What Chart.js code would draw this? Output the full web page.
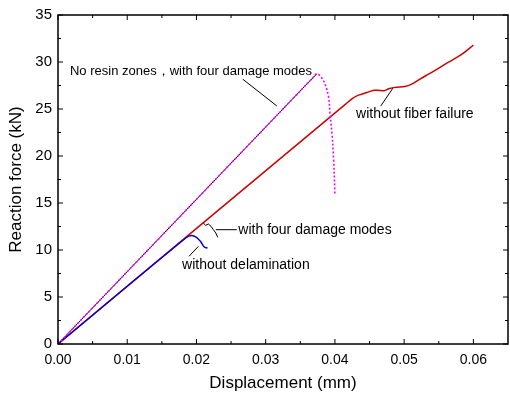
<!DOCTYPE html>
<html>
<head>
<meta charset="utf-8">
<script src="https://cdn.jsdelivr.net/npm/chart.js@4.4.0/dist/chart.umd.min.js"></script>
<style>
html, body { margin: 0; padding: 0; background: #fff; }
</style>
</head>
<body>
<canvas id="chart" width="510" height="394"></canvas>
<script>
var xTicks = [0, 0.01, 0.02, 0.03, 0.04, 0.05, 0.06];
var yTicks = [0, 5, 10, 15, 20, 25, 30, 35];

// No resin zones, with four damage modes (magenta dotted, black underneath)
var magX = [0, 0.0360, 0.0368, 0.0374, 0.0381, 0.0386, 0.0391, 0.0393, 0.03955, 0.0398, 0.0400];
var magY = [0, 27.7, 28.3, 28.75, 28.3, 27.6, 26.2, 24.4, 22.6, 19.8, 15.9];
var blackX = [0, 0.0360, 0.0368, 0.0374];
var blackY = [0, 27.7, 28.3, 28.75];

// without fiber failure / with four damage modes (red)
var redX = [0, 0.0415, 0.0425, 0.0433, 0.0442, 0.0450, 0.0457, 0.0464, 0.0471, 0.0478, 0.0487, 0.0501, 0.0511, 0.0521, 0.0535, 0.0550, 0.0564, 0.0583, 0.0600];
var redY = [0, 25.5, 26.1, 26.45, 26.65, 26.85, 27.0, 26.98, 26.95, 27.15, 27.3, 27.39, 27.64, 28.1, 28.7, 29.34, 29.98, 30.8, 31.8];

// without delamination (blue)
var blueX = [0, 0.0185, 0.0193, 0.0200, 0.0206, 0.0211, 0.0216];
var blueY = [0, 11.3, 11.55, 11.35, 10.9, 10.35, 10.2];

var FONT = 'Liberation Sans, Arial, Helvetica, sans-serif';

// text labels and leader lines, in data units
var notes = [
    { text: 'No resin zones\uFF0Cwith four damage modes', x: 0.00173, y: 28.95, size: 13 },
    { text: 'without fiber failure', x: 0.04306, y: 24.45, size: 14 },
    { text: 'with four damage modes', x: 0.02605, y: 12.13, size: 14 },
    { text: 'without delamination', x: 0.01792, y: 8.44, size: 14 }
];
var leaders = [
    [[0.02669, 28.17], [0.0316, 25.33]],
    [[0.04663, 25.33], [0.04837, 27.21]],
    [[0.02279, 12.16], [0.02582, 12.16]],
    [[0.0210, 12.87], [0.02134, 12.62], [0.02172, 12.77], [0.02211, 12.51], [0.02244, 12.16], [0.02279, 11.81], [0.02308, 11.34]],
    [[0.01893, 9.33], [0.02028, 10.39]]
];

function pts(xs, ys) {
    return xs.map(function(x, i) { return { x: x, y: ys[i] }; });
}

var framePlugin = {
    id: 'frame',
    afterDatasetsDraw: function(chart) {
        var ctx = chart.ctx, a = chart.chartArea;
        var xs = chart.scales.x, ys = chart.scales.y;
        ctx.save();
        ctx.strokeStyle = '#000';
        ctx.lineWidth = 1.5;
        ctx.strokeRect(a.left, a.top, a.right - a.left, a.bottom - a.top);

        ctx.lineWidth = 1;
        ctx.beginPath();
        for (var i = 0; i < xTicks.length; i++) {
            var px = xs.getPixelForValue(xTicks[i]);
            ctx.moveTo(px, a.bottom); ctx.lineTo(px, a.bottom - 5);
            ctx.moveTo(px, a.top); ctx.lineTo(px, a.top + 5);
            var mx = xs.getPixelForValue(xTicks[i] + 0.005);
            if (mx < a.right - 1) {
                ctx.moveTo(mx, a.bottom); ctx.lineTo(mx, a.bottom - 3);
                ctx.moveTo(mx, a.top); ctx.lineTo(mx, a.top + 3);
            }
        }
        for (var j = 0; j < yTicks.length; j++) {
            var py = ys.getPixelForValue(yTicks[j]);
            ctx.moveTo(a.left, py); ctx.lineTo(a.left + 5, py);
            ctx.moveTo(a.right, py); ctx.lineTo(a.right - 5, py);
            if (j < yTicks.length - 1) {
                var my = ys.getPixelForValue(yTicks[j] + 2.5);
                ctx.moveTo(a.left, my); ctx.lineTo(a.left + 3, my);
                ctx.moveTo(a.right, my); ctx.lineTo(a.right - 3, my);
            }
        }
        ctx.stroke();

        // leader lines
        ctx.lineWidth = 1;
        ctx.lineJoin = 'round';
        leaders.forEach(function(l) {
            ctx.beginPath();
            l.forEach(function(p, k) {
                var X = xs.getPixelForValue(p[0]), Y = ys.getPixelForValue(p[1]);
                if (k === 0) ctx.moveTo(X, Y); else ctx.lineTo(X, Y);
            });
            ctx.stroke();
        });

        ctx.fillStyle = '#000';
        ctx.textAlign = 'left';
        ctx.textBaseline = 'middle';
        notes.forEach(function(n) {
            ctx.font = n.size + 'px ' + FONT;
            ctx.fillText(n.text, xs.getPixelForValue(n.x), ys.getPixelForValue(n.y));
        });
        ctx.restore();
    }
};

var ctx = document.getElementById('chart');
var myChart = new Chart(ctx, {
    type: 'scatter',
    data: {
        datasets: [
            {
                label: 'No resin zones',
                data: pts(magX, magY),
                showLine: true,
                borderColor: '#FF00FF',
                borderWidth: 1.6,
                borderDash: [2, 2],
                pointRadius: 0,
                tension: 0.35
            },
            {
                label: 'No resin zones base',
                data: pts(blackX, blackY),
                showLine: true,
                borderColor: '#000',
                borderWidth: 1,
                pointRadius: 0,
                tension: 0.35
            },
            {
                label: 'without delamination',
                data: pts(blueX, blueY),
                showLine: true,
                borderColor: '#0000DD',
                borderWidth: 1.5,
                pointRadius: 0,
                tension: 0.35
            },
            {
                label: 'without fiber failure',
                data: pts(redX, redY),
                showLine: true,
                borderColor: '#D00000',
                borderWidth: 1.5,
                pointRadius: 0,
                tension: 0.35
            }
        ]
    },
    options: {
        responsive: false,
        animation: false,
        layout: { padding: { top: 15, right: 2, left: 0, bottom: 0 } },
        plugins: {
            legend: { display: false },
            tooltip: { enabled: false }
        },
        scales: {
            x: {
                type: 'linear',
                min: 0,
                max: 0.065,
                grid: { display: false, drawTicks: false },
                border: { display: false },
                afterBuildTicks: function(s) { s.ticks = xTicks.map(function(v) { return { value: v }; }); },
                afterFit: function(s) { s.height = 50; },
                ticks: {
                    color: '#000',
                    padding: 8,
                    maxRotation: 0,
                    font: { family: FONT, size: 14 },
                    callback: function(v) { return Number(v).toFixed(2); }
                },
                title: {
                    display: true,
                    text: 'Displacement (mm)',
                    color: '#000',
                    padding: 0,
                    font: { family: FONT, size: 17 }
                }
            },
            y: {
                type: 'linear',
                min: 0,
                max: 35,
                grid: { display: false, drawTicks: false },
                border: { display: false },
                afterBuildTicks: function(s) { s.ticks = yTicks.map(function(v) { return { value: v }; }); },
                afterFit: function(s) { s.width = 58; },
                ticks: {
                    color: '#000',
                    padding: 6,
                    font: { family: FONT, size: 15 }
                },
                title: {
                    display: true,
                    text: 'Reaction force (kN)',
                    color: '#000',
                    padding: { top: 6, bottom: 0 },
                    font: { family: FONT, size: 17 }
                }
            }
        }
    },
    plugins: [framePlugin]
});
</script>
</body>
</html>
